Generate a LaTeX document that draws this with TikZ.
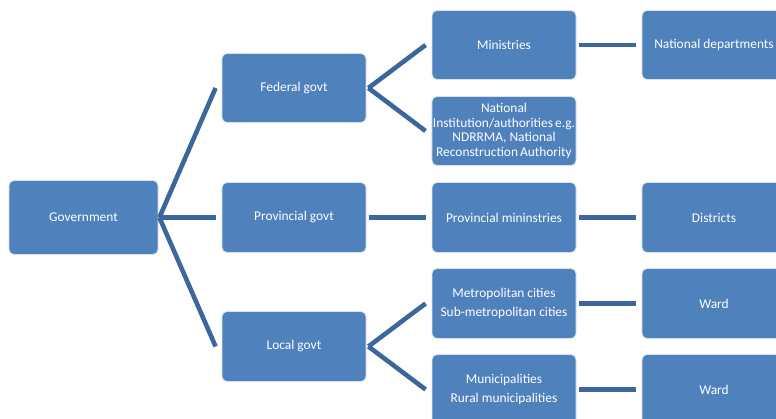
\documentclass[tikz,border=0pt]{standalone}
\usepackage{fontspec}
\setmainfont{Carlito}
\usepackage{tikz}
\usetikzlibrary{positioning}

\definecolor{boxblue}{RGB}{79,129,189}
\definecolor{boxedge}{RGB}{214,226,240}
\definecolor{linkblue}{RGB}{60,103,156}

\tikzset{
  unit/.style={rectangle, rounded corners=5pt, fill=boxblue, draw=boxedge, line width=0.8pt,
    minimum width=144pt, minimum height=70pt, inner sep=1pt, align=center, text=white,
    font=\fontsize{13.4}{19}\selectfont},
  link/.style={draw=linkblue, line width=4.6pt}
}

\begin{document}
\begin{tikzpicture}[x=1pt, y=-1pt]
\useasboundingbox (0,0) rectangle (776,419);
\clip (0,0) rectangle (776,419);

\node[unit, minimum width=149pt, minimum height=74pt] (gov) at (83.5, 217.5) {Government};

\node[unit, minimum height=69pt] (fed) at (294, 88) {Federal govt};
\node[unit] (prov) at (294, 217.5) {Provincial govt};
\node[unit] (loc) at (294, 346.5) {Local govt};

\node[unit, minimum height=69pt] (min) at (504, 45) {Ministries};
\node[unit, minimum height=69pt, font=\fontsize{13.4}{14.4}\selectfont] (inst) at (504, 131) {National\\Institution/authorities\kern-1pt{} e.g.\\NDRRMA, National\\Reconstruction\kern-1pt{} Authority};
\node[unit] (pmin) at (504, 217.5) {Provincial mininstries};
\node[unit] (metro) at (504, 303.5) {Metropolitan cities\\Sub-metropolitan cities};
\node[unit] (muni) at (504, 389.5) {Municipalities\\Rural municipalities};

\node[unit, minimum height=69pt] (ndep) at (714, 45) {National departments};
\node[unit] (dist) at (714, 217.5) {Districts};
\node[unit] (ward) at (714, 303.5) {Ward};
\node[unit] (rward) at (714, 389.5) {Ward};

\draw[link] ([xshift=1pt]gov.east) -- ([xshift=-6pt]fed.west);
\draw[link] ([xshift=1pt]gov.east) -- ([xshift=-6pt]prov.west);
\draw[link] ([xshift=1pt]gov.east) -- ([xshift=-6pt]loc.west);

\draw[link] ([xshift=2pt]fed.east) -- ([xshift=-6pt]min.west);
\draw[link] ([xshift=2pt]fed.east) -- ([xshift=-6pt]inst.west);
\draw[link] ([xshift=3pt]prov.east) -- ([xshift=-6pt]pmin.west);
\draw[link] ([xshift=2pt]loc.east) -- ([xshift=-6pt]metro.west);
\draw[link] ([xshift=2pt]loc.east) -- ([xshift=-6pt]muni.west);

\draw[link] ([xshift=3pt]min.east) -- ([xshift=-6pt]ndep.west);
\draw[link] ([xshift=3pt]pmin.east) -- ([xshift=-6pt]dist.west);
\draw[link] ([xshift=3pt]metro.east) -- ([xshift=-6pt]ward.west);
\draw[link] ([xshift=3pt]muni.east) -- ([xshift=-6pt]rward.west);
\end{tikzpicture}
\end{document}
